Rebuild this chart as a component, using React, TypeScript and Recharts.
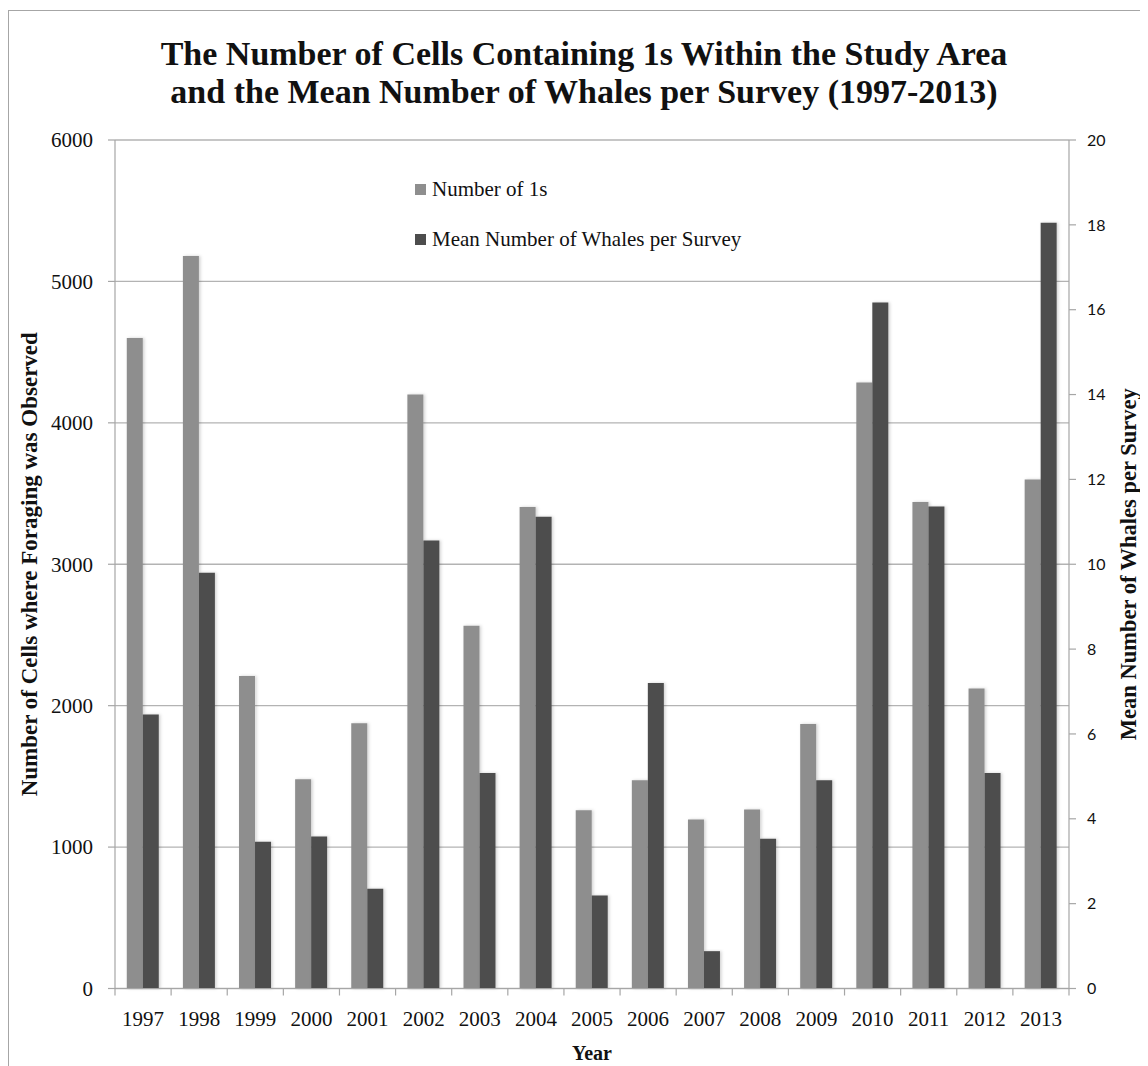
import { BarChart, Bar, XAxis, YAxis, CartesianGrid, Legend, Label } from "recharts";

const years = ["1997", "1998", "1999", "2000", "2001", "2002", "2003", "2004", "2005", "2006", "2007", "2008", "2009", "2010", "2011", "2012", "2013"];
const numberOfOnes = [4600, 5180, 2210, 1480, 1875, 4200, 2565, 3405, 1260, 1472, 1195, 1265, 1870, 4285, 3440, 2122, 3600];
const meanWhales = [6.46, 9.8, 3.46, 3.58, 2.35, 10.56, 5.08, 11.12, 2.19, 7.2, 0.88, 3.53, 4.91, 16.17, 11.36, 5.08, 18.05];
const leftTicks = [0, 1000, 2000, 3000, 4000, 5000, 6000];
const rightTicks = [0, 2, 4, 6, 8, 10, 12, 14, 16, 18, 20];
const seriesNames = ["Number of 1s", "Mean Number of Whales per Survey"];

const data = years.map((year, i) => ({ year, ones: numberOfOnes[i], whales: meanWhales[i] }));

const SERIF = '"Liberation Serif", "Times New Roman", serif';
const AXIS = "#a6a6a6";

const YearTick = (props: any) => {
  const { x, y, payload, index, width } = props;
  const half = payload && payload.offset > 0 ? payload.offset : width / (2 * years.length);
  const axisY = y - 22.5;
  return (
    <g>
      <line x1={x - half} x2={x - half} y1={axisY} y2={axisY + 7} stroke={AXIS} strokeWidth={1.2} />
      {index === years.length - 1 && (
        <line x1={x + half} x2={x + half} y1={axisY} y2={axisY + 7} stroke={AXIS} strokeWidth={1.2} />
      )}
      <text x={x} y={y} dy="0.71em" textAnchor="middle" fontFamily={SERIF} fontSize={21} fill="#111">
        {payload.value}
      </text>
    </g>
  );
};

const LeftTick = (props: any) => {
  const { x, y, payload } = props;
  return (
    <text x={x} y={y} dy="0.35em" textAnchor="end" fontFamily={SERIF} fontSize={21} fill="#111">
      {payload.value}
    </text>
  );
};

const renderLegend = (props: any) => {
  const payload = [...(props.payload || [])].sort(
    (a: any, b: any) => seriesNames.indexOf(a.value) - seriesNames.indexOf(b.value)
  );
  return (
    <div style={{ fontFamily: SERIF, fontSize: 21, color: "#111" }}>
      {payload.map((entry: any) => (
        <div key={entry.value} style={{ height: 50, display: "flex", alignItems: "center" }}>
          <span style={{ display: "inline-block", width: 11, height: 11, background: entry.color, marginRight: 6 }} />
          <span>{entry.value}</span>
        </div>
      ))}
    </div>
  );
};

const leftLabel = (props: any) => {
  const { viewBox } = props;
  const cy = viewBox.y + viewBox.height / 2;
  return (
    <text x={21} y={cy} transform={`rotate(-90, 21, ${cy})`} textAnchor="middle" dominantBaseline="central" fontFamily={SERIF} fontWeight="bold" fontSize={23} fill="#111">
      Number of Cells where Foraging was Observed
    </text>
  );
};

const rightLabel = (props: any) => {
  const { viewBox } = props;
  const cy = viewBox.y + viewBox.height / 2;
  const cx = viewBox.x + 59;
  return (
    <text x={cx} y={cy} transform={`rotate(-90, ${cx}, ${cy})`} textAnchor="middle" dominantBaseline="central" fontFamily={SERIF} fontWeight="bold" fontSize={22.5} fill="#111">
      Mean Number of Whales per Survey
    </text>
  );
};

export default function App() {
  return (
    <div style={{ position: "relative", width: 1140, height: 1058, overflow: "hidden", background: "#fff" }}>
      <div style={{ position: "absolute", left: 0, top: 2, width: 1200, height: 1200, borderLeft: `1.5px solid ${AXIS}`, borderTop: `1.5px solid ${AXIS}` }} />
      <div
        style={{
          position: "absolute",
          left: 0,
          top: 27,
          width: 1152,
          textAlign: "center",
          fontFamily: SERIF,
          fontWeight: "bold",
          fontSize: 34,
          lineHeight: "38px",
          color: "#111",
        }}
      >
        The Number of Cells Containing 1s Within the Study Area
        <br />
        and the Mean Number of Whales per Survey (1997-2013)
      </div>
      <BarChart
        width={1140}
        height={1058}
        data={data}
        margin={{ top: 132, right: 0, bottom: 0, left: 0 }}
        barCategoryGap="21%"
        barGap={0}
        style={{ position: "absolute", left: 0, top: 0 }}
      >
        <defs>
          <filter id="barShadow" x="-30%" y="-5%" width="160%" height="110%">
            <feDropShadow dx="1.5" dy="0" stdDeviation="1.5" floodColor="#000" floodOpacity="0.18" />
          </filter>
        </defs>
        <CartesianGrid yAxisId="left" vertical={false} stroke="#b3b3b3" strokeWidth={1.3} />
        <XAxis
          dataKey="year"
          height={77.5}
          interval={0}
          tickLine={false}
          tickSize={7}
          tickMargin={15.5}
          tick={<YearTick />}
          axisLine={{ stroke: AXIS, strokeWidth: 1.2 }}
        >
          <Label value="Year" position="insideBottom" offset={6} fontFamily={SERIF} fontWeight="bold" fontSize={20} fill="#111" />
        </XAxis>
        <YAxis
          yAxisId="left"
          orientation="left"
          width={107}
          domain={[0, 6000]}
          ticks={leftTicks}
          interval={0}
          tickSize={7}
          tickMargin={15}
          tick={<LeftTick />}
          tickLine={{ stroke: AXIS, strokeWidth: 1.2 }}
          axisLine={{ stroke: AXIS, strokeWidth: 1.2 }}
          label={leftLabel}
        />
        <YAxis
          yAxisId="right"
          orientation="right"
          width={79}
          domain={[0, 20]}
          ticks={rightTicks}
          interval={0}
          tickSize={7}
          tickMargin={11}
          tick={{ fontFamily: "Lato, sans-serif", fontSize: 16, fill: "#111" }}
          tickLine={{ stroke: AXIS, strokeWidth: 1.2 }}
          axisLine={{ stroke: AXIS, strokeWidth: 1.2 }}
          label={rightLabel}
        />
        <Legend
          content={renderLegend}
          layout="horizontal"
          verticalAlign="middle"
          align="center"
          wrapperStyle={{ position: "absolute", left: 407, top: 156, width: 400 }}
        />
        <Bar yAxisId="left" dataKey="ones" name={seriesNames[0]} fill="#8e8e8e" filter="url(#barShadow)" isAnimationActive={false} />
        <Bar yAxisId="right" dataKey="whales" name={seriesNames[1]} fill="#4d4d4d" filter="url(#barShadow)" isAnimationActive={false} />
      </BarChart>
    </div>
  );
}
